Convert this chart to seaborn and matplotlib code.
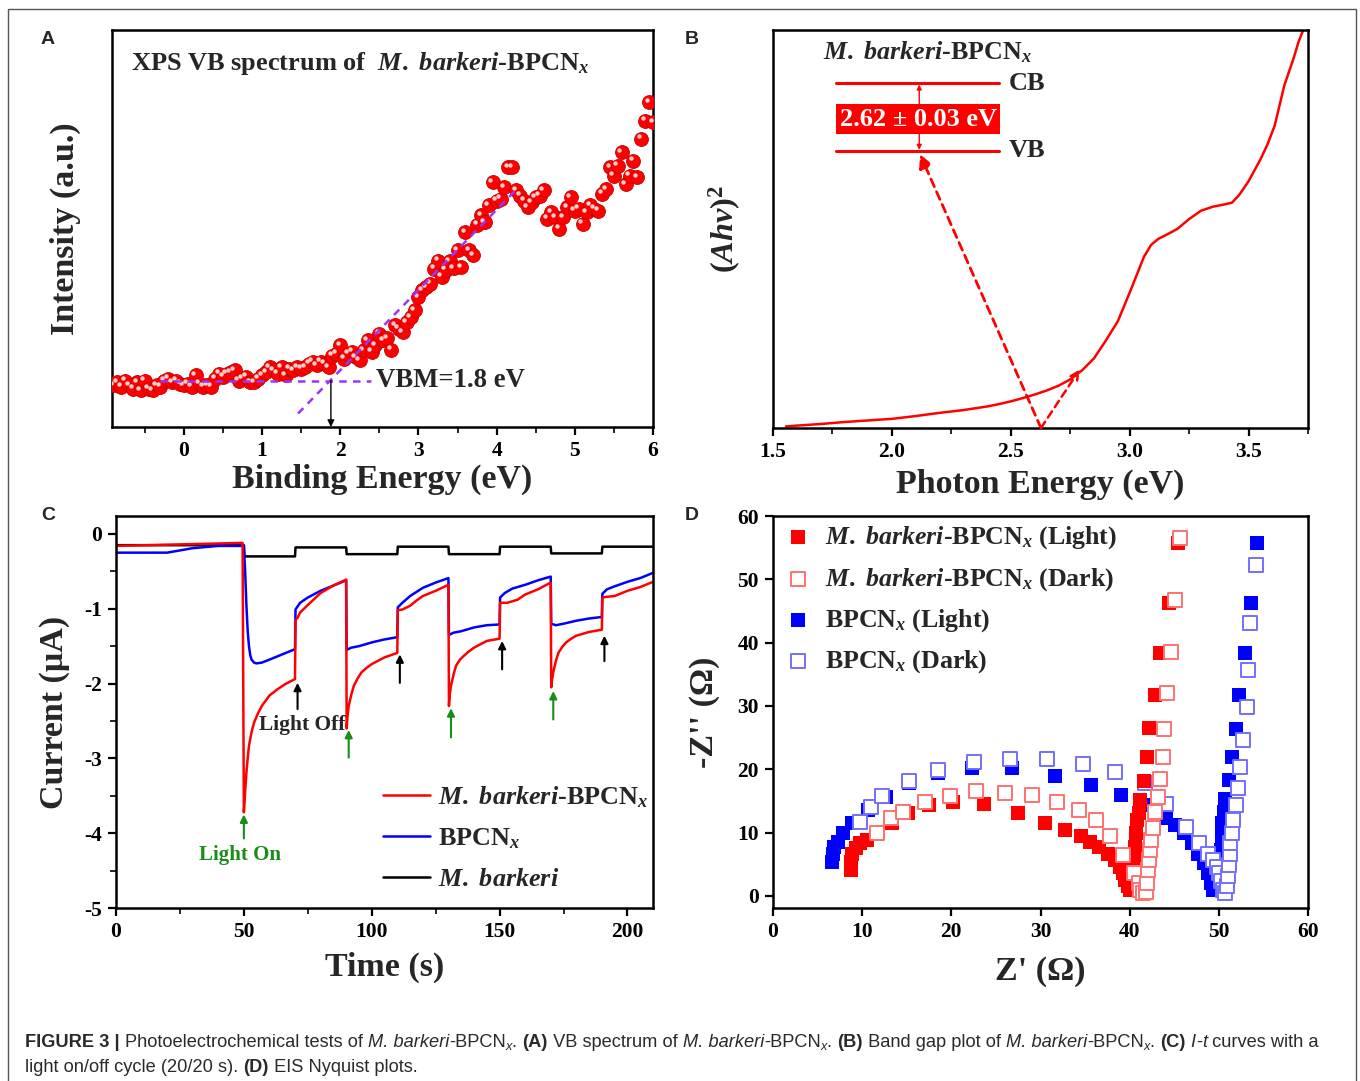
import numpy as np
import pandas as pd
import matplotlib
matplotlib.use('Agg')
import matplotlib.pyplot as plt
from matplotlib.ticker import MultipleLocator, NullLocator
from matplotlib.patches import Rectangle
from matplotlib.transforms import offset_copy
import seaborn as sns

# ---------------------------------------------------------------------------
# data
# A: XPS VB spectrum (binding energy eV, intensity a.u. 0-100)
xps_e = [-0.9, -0.85, -0.8, -0.75, -0.7, -0.65, -0.6, -0.55, -0.5, -0.45, -0.4, -0.35,
         -0.3, -0.25, -0.2, -0.15, -0.1, -0.05, 0.0, 0.05, 0.1, 0.15, 0.2, 0.25, 0.3,
         0.35, 0.4, 0.45, 0.5, 0.55, 0.6, 0.65, 0.7, 0.75, 0.8, 0.85, 0.9, 0.95, 1.0,
         1.05, 1.1, 1.15, 1.2, 1.25, 1.3, 1.35, 1.4, 1.45, 1.5, 1.55, 1.6, 1.65, 1.7,
         1.75, 1.8, 1.85, 1.9, 1.95, 2.0, 2.05, 2.1, 2.15, 2.2, 2.25, 2.3, 2.35, 2.4,
         2.45, 2.5, 2.55, 2.6, 2.65, 2.7, 2.75, 2.8, 2.85, 2.9, 2.95, 3.0, 3.05, 3.1,
         3.15, 3.2, 3.25, 3.3, 3.35, 3.4, 3.45, 3.5, 3.55, 3.6, 3.65, 3.7, 3.75, 3.8,
         3.85, 3.9, 3.95, 4.0, 4.05, 4.1, 4.15, 4.2, 4.25, 4.3, 4.35, 4.4, 4.45, 4.5,
         4.55, 4.6, 4.65, 4.7, 4.75, 4.8, 4.85, 4.9, 4.95, 5.0, 5.05, 5.1, 5.15, 5.2,
         5.25, 5.3, 5.35, 5.4, 5.45, 5.5, 5.55, 5.6, 5.65, 5.7, 5.75, 5.8, 5.85, 5.9,
         5.95, 6.0]
xps_i = [10.5, 11.3, 10.1, 11.7, 10.5, 9.6, 11.3, 9.2, 11.7, 9.6, 9.2, 10.5,
         10.1, 11.7, 12.2, 11.3, 11.7, 10.9, 10.5, 10.9, 10.1, 13.0, 10.9, 10.1, 10.5,
         10.1, 12.2, 13.4, 12.6, 13.4, 13.8, 14.3, 11.7, 12.2, 12.6, 11.3, 11.3, 12.2, 13.0,
         13.8, 15.1, 14.3, 13.4, 15.1, 13.0, 14.7, 14.3, 15.1, 14.7, 15.1, 15.9, 16.4, 15.5,
         16.4, 15.9, 15.1, 18.0, 18.5, 20.6, 17.2, 18.5, 18.9, 17.6, 16.8, 19.3, 21.8, 18.9,
         20.6, 23.5, 21.8, 22.3, 19.5, 25.6, 24.8, 23.9, 26.4, 27.7, 29.4, 32.7, 34.4, 35.2,
         36.1, 39.8, 41.9, 37.8, 39.6, 41.7, 40.0, 44.5, 40.3, 49.0, 44.5, 43.2, 51.0, 53.3,
         51.6, 55.8, 61.7, 57.0, 57.5, 60.4, 65.4, 65.4, 59.6, 58.3, 57.0, 55.4, 56.6, 57.9,
         58.3, 59.6, 52.4, 54.1, 52.8, 49.9, 52.8, 55.4, 57.9, 54.5, 55.0, 51.2, 54.1, 55.8,
         55.0, 54.5, 58.7, 59.9, 65.4, 63.3, 65.8, 69.2, 61.1, 63.3, 67.1, 62.9, 72.6, 77.2,
         81.8, 76.8]
vbm_base_x = [-0.3, 2.39]
vbm_base_y = [11.7, 11.7]
vbm_fit_x = [1.46, 4.28]
vbm_fit_y = [3.4, 60.4]
vbm = 1.88

# B: Tauc plot (photon energy eV, (Ahv)^2 a.u. 0-100)
tauc_e = [1.555, 1.6, 1.7, 1.8, 1.9, 2.0, 2.1, 2.2, 2.3, 2.4, 2.45, 2.5, 2.55, 2.6,
          2.65, 2.7, 2.75, 2.8, 2.85, 2.9, 2.95, 3.0, 3.03, 3.06, 3.09, 3.12, 3.15,
          3.2, 3.25, 3.3, 3.35, 3.4, 3.43, 3.46, 3.5, 3.55, 3.58, 3.61, 3.63, 3.65,
          3.67, 3.69, 3.71, 3.73]
tauc_a = [0.4, 0.6, 1.0, 1.5, 1.9, 2.3, 3.0, 3.8, 4.5, 5.4, 6.0, 6.7, 7.5, 8.4,
          9.4, 10.6, 12.2, 14.5, 17.5, 22.0, 26.8, 34.0, 38.5, 43.0, 46.0, 47.5, 48.4,
          50.0, 52.5, 54.6, 55.6, 56.2, 56.6, 58.5, 62.0, 67.5, 71.3, 76.0, 81.0, 86.0,
          89.5, 93.0, 97.0, 100.0]
tangent_x = [2.627, 2.79]
tangent_y = [0.0, 14.7]
band_gap = 2.62

# C: I-t curves (time s, current uA)
t_red = [0, 49, 49.5, 50, 50.5, 51, 51.5, 52, 53, 54, 55.5, 57, 60, 63, 66, 70,
         70.2, 71, 72, 75, 80, 85, 90,
         90.2, 90.5, 91, 92, 93, 94.5, 96, 98, 100, 105, 110,
         110.2, 112, 115, 117.5, 120, 125, 130,
         130.2, 130.5, 131, 132, 133, 134.5, 136, 138, 140, 145, 150,
         150.2, 153, 157, 160, 165, 170,
         170.2, 170.5, 171, 172, 173, 174.5, 176, 178, 180, 185, 190,
         190.2, 192, 195, 200, 205, 210]
i_red = [-0.16, -0.12, -0.12, -3.72, -3.45, -3.19, -3.00, -2.83, -2.65, -2.52, -2.40, -2.30,
         -2.16, -2.08, -2.01, -1.94,
         -1.15, -1.12, -1.05, -0.95, -0.79, -0.69, -0.61,
         -2.60, -2.45, -2.30, -2.15, -2.03, -1.93, -1.85, -1.79, -1.74, -1.65, -1.59,
         -1.02, -1.01, -0.96, -0.89, -0.83, -0.76, -0.68,
         -2.30, -2.15, -2.03, -1.88, -1.76, -1.68, -1.63, -1.57, -1.52, -1.43, -1.40,
         -0.92, -0.92, -0.88, -0.81, -0.74, -0.65,
         -2.05, -1.95, -1.85, -1.70, -1.59, -1.51, -1.45, -1.40, -1.36, -1.31, -1.28,
         -0.85, -0.84, -0.83, -0.76, -0.71, -0.64]
t_blue = [0, 20, 30, 40, 50, 50.5, 51, 51.5, 52, 52.5, 53, 54, 55, 57, 60, 65, 70,
          70.2, 72, 75, 80, 85, 90,
          90.2, 92, 95, 100, 105, 110,
          110.2, 112, 115, 120, 125, 130,
          130.2, 132, 135, 140, 145, 150,
          150.2, 152, 155, 160, 165, 170,
          170.2, 172, 175, 180, 185, 190,
          190.2, 192, 195, 200, 205, 210]
i_blue = [-0.25, -0.25, -0.19, -0.16, -0.16, -0.50, -0.95, -1.30, -1.50, -1.62, -1.68, -1.72,
          -1.73, -1.72, -1.68, -1.61, -1.54,
          -1.01, -0.92, -0.85, -0.76, -0.69, -0.62,
          -1.55, -1.52, -1.50, -1.45, -1.41, -1.38,
          -0.98, -0.92, -0.83, -0.72, -0.65, -0.59,
          -1.35, -1.32, -1.30, -1.25, -1.22, -1.21,
          -0.85, -0.79, -0.73, -0.68, -0.62, -0.57,
          -1.20, -1.22, -1.20, -1.16, -1.13, -1.11,
          -0.80, -0.74, -0.70, -0.64, -0.59, -0.52]
t_black = [0, 50, 50.2, 70, 70.2, 90, 90.2, 110, 110.2, 130, 130.2, 150, 150.2, 170, 170.2,
           190, 190.2, 210]
i_black = [-0.15, -0.15, -0.30, -0.30, -0.18, -0.18, -0.27, -0.27, -0.17, -0.17, -0.27,
           -0.27, -0.17, -0.17, -0.26, -0.26, -0.17, -0.17]
light_on_t = [50, 91, 131, 171]
light_on_tail = [-4.07, -2.99, -2.72, -2.48]
light_on_tip = [-3.75, -2.62, -2.33, -2.10]
light_off_t = [71, 111, 151, 191]
light_off_tail = [-2.34, -1.99, -1.81, -1.70]
light_off_tip = [-1.99, -1.61, -1.43, -1.36]

# D: Nyquist plots (Z' ohm, -Z'' ohm)
mb_light_re = [8.78, 8.78, 8.9, 9.27, 9.76, 10.5, 11.7, 13.3, 15.1, 17.5, 20.2, 23.7, 27.5,
               30.5, 32.8, 34.5, 35.6, 36.6, 37.6, 38.3, 38.9, 39.3, 39.5, 39.8, 40.0, 40.2,
               40.4, 40.5, 40.6, 40.7, 40.8, 41.1, 41.2, 41.6, 41.9, 42.2, 42.8, 43.4, 44.4,
               45.4]
mb_light_im = [4.1, 5.4, 6.7, 7.5, 8.3, 8.8, 9.9, 11.5, 13.1, 14.4, 14.9, 14.6, 13.1,
               11.6, 10.4, 9.4, 8.6, 7.8, 6.7, 5.7, 4.6, 3.6, 2.5, 1.5, 0.9, 1.2,
               3.6, 5.7, 7.8, 9.9, 12.0, 13.1, 15.2, 18.1, 22.0, 26.5, 31.8, 38.4, 46.2,
               55.7]
mb_dark_re = [11.7, 13.2, 14.6, 17.1, 19.8, 22.8, 26.0, 29.0, 31.9, 34.3, 36.2, 37.8, 39.3,
              40.5, 41.0, 41.2, 41.5, 41.8, 42.0, 42.1, 42.2, 42.3, 42.4, 42.6, 42.8, 43.2,
              43.4, 43.7, 43.9, 44.2, 44.6, 45.1, 45.6]
mb_dark_im = [9.9, 12.3, 13.3, 14.9, 15.8, 16.5, 16.3, 15.9, 14.9, 13.6, 12.0, 9.4, 6.5,
              3.6, 2.0, 0.9, 0.4, 0.7, 2.0, 4.1, 5.7, 7.3, 8.8, 10.7, 13.3, 15.7,
              18.4, 22.0, 26.3, 32.0, 38.6, 46.7, 56.5]
bp_light_re = [6.59, 6.7, 6.83, 7.3, 7.9, 8.9, 10.6, 12.7, 15.3, 18.5, 22.3, 26.8, 31.6,
               35.7, 39.0, 41.5, 42.9, 44.1, 45.1, 46.1, 47.0, 47.7, 48.3, 48.8, 49.1, 49.4,
               49.8, 49.9, 50.0, 50.2, 50.3, 50.4, 50.6, 50.7, 51.1, 51.5, 51.9, 52.3, 52.9,
               53.6, 54.3]
bp_light_im = [5.4, 6.7, 7.8, 8.6, 9.9, 11.5, 13.6, 15.7, 17.8, 19.4, 20.2, 20.2, 18.9,
               17.5, 15.9, 14.4, 13.3, 12.3, 11.2, 9.9, 8.3, 6.7, 5.2, 3.6, 2.0, 0.9,
               1.2, 3.1, 5.2, 7.3, 9.4, 11.5, 13.3, 15.3, 18.3, 22.0, 26.3, 31.7, 38.3,
               46.2, 55.7]
bp_dark_re = [9.76, 11.0, 12.2, 15.2, 18.5, 22.5, 26.6, 30.7, 34.8, 38.4, 41.7, 44.1, 46.3,
              47.8, 48.8, 49.4, 49.8, 50.0, 50.2, 50.5, 50.7, 50.9, 51.0, 51.1, 51.2, 51.3,
              51.5, 51.6, 51.9, 52.1, 52.4, 52.7, 53.2, 53.3, 53.5, 54.2]
bp_dark_im = [11.7, 14.1, 15.8, 18.1, 19.9, 21.2, 21.7, 21.7, 20.9, 19.6, 17.9, 14.6, 10.9,
              8.3, 6.7, 5.7, 4.6, 3.6, 2.3, 0.9, 0.5, 1.5, 3.1, 4.9, 6.7, 8.3,
              9.9, 12.0, 14.4, 17.0, 20.4, 24.6, 29.8, 35.7, 43.1, 52.3]

# ---------------------------------------------------------------------------
sns.set_theme(style='ticks')
plt.rcParams['font.family'] = ['Liberation Serif', 'DejaVu Serif']
plt.rcParams['font.weight'] = 'bold'
plt.rcParams['axes.labelweight'] = 'bold'
plt.rcParams['axes.unicode_minus'] = False
plt.rcParams['mathtext.fontset'] = 'custom'
plt.rcParams['mathtext.rm'] = 'Liberation Serif:bold'
plt.rcParams['mathtext.bf'] = 'Liberation Serif:bold'
plt.rcParams['mathtext.it'] = 'Liberation Serif:italic:bold'
plt.rcParams['mathtext.bfit'] = 'Liberation Serif:italic:bold'

W, H = 1360, 1081
fig = plt.figure(figsize=(W / 100, H / 100), dpi=100)

MB = r'$\mathit{M.\ barkeri}$'
BX = r'BPCN$_{\mathit{x}}$'
TICK = 15.5
LAB = 24.5


def px_axes(left, top, right, bottom):
    return fig.add_axes([left / W, 1 - bottom / H, (right - left) / W, (bottom - top) / H])


def style_axes(ax):
    for sp in ax.spines.values():
        sp.set_visible(True)
        sp.set_linewidth(1.8)
        sp.set_color('black')
    ax.tick_params(which='major', direction='out', length=6, width=1.6, labelsize=TICK,
                   colors='black', pad=4)
    ax.tick_params(which='minor', direction='out', length=4, width=1.4)
    ax.tick_params(top=False, right=False)
    ax.grid(False)
    ax.set_facecolor('white')


# ---------------------------------------------------------------- panel A
axA = px_axes(112, 30, 653, 427)
dfA = pd.DataFrame({'e': xps_e, 'i': xps_i})
sns.scatterplot(data=dfA, x='e', y='i', ax=axA, s=100, color='#ff0000',
                edgecolor='#c80000', linewidth=0.6, zorder=3)
sns.scatterplot(data=dfA, x='e', y='i', ax=axA, s=10, color='#ffd0d0', linewidth=0,
                zorder=4, transform=offset_copy(axA.transData, fig=fig, x=-2.5, y=2.5, units='dots'))
axA.plot(vbm_base_x, vbm_base_y, ls=(0, (3, 2.5)), color='#9933ff', lw=1.8, zorder=5)
axA.plot(vbm_fit_x, vbm_fit_y, ls=(0, (3, 2.5)), color='#9933ff', lw=1.8, zorder=5)
axA.annotate('', xy=(vbm, 0), xytext=(vbm, vbm_base_y[0]),
             arrowprops=dict(arrowstyle='-|>', color='black', lw=1.0, mutation_scale=10,
                             shrinkA=0, shrinkB=0), zorder=6)
axA.text(2.46, 11.6, 'VBM=1.8 eV', fontsize=19.3, va='center', ha='left')
axA.text(-0.68, 91.6, 'XPS VB spectrum of  ' + MB + '-' + BX, fontsize=19, va='center')
axA.set_xlim(-0.92, 6)
axA.set_ylim(0, 100)
axA.xaxis.set_major_locator(MultipleLocator(1))
axA.xaxis.set_minor_locator(MultipleLocator(0.5))
axA.yaxis.set_major_locator(NullLocator())
style_axes(axA)
axA.set_xlabel('Binding Energy (eV)', fontsize=LAB)
axA.set_ylabel('Intensity (a.u.)', fontsize=LAB)
axA.xaxis.set_label_coords(0.5, -0.093)
axA.yaxis.set_label_coords(-0.058, 0.5)

# ---------------------------------------------------------------- panel B
axB = px_axes(773, 30, 1308, 428)
dfB = pd.DataFrame({'e': tauc_e, 'a': tauc_a})
sns.lineplot(data=dfB, x='e', y='a', ax=axB, color='#ff0000', lw=1.8, estimator=None, sort=False)
axB.annotate('', xy=(tangent_x[1], tangent_y[1]), xytext=(tangent_x[0], tangent_y[0]),
             arrowprops=dict(arrowstyle='->', color='#ff0000', lw=1.8, ls=(0, (3, 2)),
                             shrinkA=0, shrinkB=0, mutation_scale=14))
axB.annotate('', xy=(2.118, 68.8), xytext=(band_gap + 0.007, 0),
             arrowprops=dict(arrowstyle='-|>', color='#ff0000', lw=2.0, ls=(0, (3, 2)),
                             shrinkA=0, shrinkB=0, mutation_scale=20))
axB.plot([1.764, 2.451], [86.6, 86.6], color='#ff0000', lw=2.2)
axB.plot([1.764, 2.451], [69.6, 69.6], color='#ff0000', lw=2.2)
axB.annotate('', xy=(2.115, 86.3), xytext=(2.115, 69.9),
             arrowprops=dict(arrowstyle='<|-|>', color='#ff0000', lw=1.0, shrinkA=0, shrinkB=0,
                             mutation_scale=7))
axB.add_patch(Rectangle((1.767, 73.9), 0.688, 7.6, facecolor='#ff0000', edgecolor='none', zorder=4))
axB.text(2.111, 77.6, '2.62 \u00b1 0.03 eV', color='white', fontsize=19, ha='center',
         va='center', zorder=5)
axB.text(2.49, 86.6, 'CB', fontsize=19, va='center')
axB.text(2.49, 69.6, 'VB', fontsize=19, va='center')
axB.text(1.709, 94.4, MB + '-' + BX, fontsize=18.7, va='center')
axB.set_xlim(1.5, 3.75)
axB.set_ylim(0, 100)
axB.xaxis.set_major_locator(MultipleLocator(0.5))
axB.xaxis.set_minor_locator(MultipleLocator(0.25))
axB.yaxis.set_major_locator(NullLocator())
style_axes(axB)
axB.set_xlabel('Photon Energy (eV)', fontsize=LAB)
axB.set_ylabel(r'($\mathit{Ahv}$)$^{2}$', fontsize=23.3)
axB.xaxis.set_label_coords(0.5, -0.103)
axB.yaxis.set_label_coords(-0.056, 0.5)

# ---------------------------------------------------------------- panel C
axC = px_axes(116, 516, 653, 908)
sns.lineplot(x=t_black, y=i_black, ax=axC, color='black', lw=1.8, estimator=None, sort=False,
             label=MB)
sns.lineplot(x=t_blue, y=i_blue, ax=axC, color='#0000ff', lw=1.8, estimator=None, sort=False,
             label=BX)
sns.lineplot(x=t_red, y=i_red, ax=axC, color='#ff0000', lw=1.8, estimator=None, sort=False,
             label=MB + '-' + BX)
for t, a, b in zip(light_on_t, light_on_tail, light_on_tip):
    axC.annotate('', xy=(t, b), xytext=(t, a),
                 arrowprops=dict(arrowstyle='-|>', color='#1a8c1a', lw=1.5, shrinkA=0, shrinkB=0,
                                 mutation_scale=11))
for t, a, b in zip(light_off_t, light_off_tail, light_off_tip):
    axC.annotate('', xy=(t, b), xytext=(t, a),
                 arrowprops=dict(arrowstyle='-|>', color='black', lw=1.5, shrinkA=0, shrinkB=0,
                                 mutation_scale=11))
axC.text(72.9, -2.56, 'Light Off', fontsize=15.5, ha='center', va='center')
axC.text(48.5, -4.29, 'Light On', fontsize=15, ha='center', va='center', color='#1a8c1a')
axC.set_xlim(0, 210)
axC.set_ylim(-5, 0.24)
axC.xaxis.set_major_locator(MultipleLocator(50))
axC.xaxis.set_minor_locator(MultipleLocator(25))
axC.yaxis.set_major_locator(MultipleLocator(1))
axC.yaxis.set_minor_locator(MultipleLocator(0.5))
style_axes(axC)
h, l = axC.get_legend_handles_labels()
axC.legend(h[::-1], l[::-1], loc='upper left', bbox_to_anchor=(0.497, 0.316), frameon=False,
           fontsize=18.8, handlelength=1.8, handletextpad=0.3, labelspacing=0.64,
           borderaxespad=0, borderpad=0)
axC.set_xlabel('Time (s)', fontsize=LAB)
axC.set_ylabel('Current (\u03bcA)', fontsize=LAB)
axC.xaxis.set_label_coords(0.5, -0.112)
axC.yaxis.set_label_coords(-0.085, 0.5)

# ---------------------------------------------------------------- panel D
axD = px_axes(773, 516, 1308, 908)
sq = dict(marker='s', s=110, ax=axD)
sns.scatterplot(x=bp_light_re, y=bp_light_im, color='#0000ff', linewidth=0,
                label=BX + ' (Light)', **sq)
sns.scatterplot(x=bp_dark_re, y=bp_dark_im, color='#7070ff', facecolors='white',
                edgecolor='#7070ff', linewidth=1.4, label=BX + ' (Dark)', **sq)
sns.scatterplot(x=mb_light_re, y=mb_light_im, color='#ff0000', linewidth=0,
                label=MB + '-' + BX + ' (Light)', **sq)
sns.scatterplot(x=mb_dark_re, y=mb_dark_im, color='#ff7070', facecolors='white',
                edgecolor='#ff7070', linewidth=1.4, label=MB + '-' + BX + ' (Dark)', **sq)
axD.set_xlim(0, 60)
axD.set_ylim(-1.9, 60)
axD.xaxis.set_major_locator(MultipleLocator(10))
axD.yaxis.set_major_locator(MultipleLocator(10))
style_axes(axD)
h, l = axD.get_legend_handles_labels()
order = [2, 3, 0, 1]
axD.legend([h[k] for k in order], [l[k] for k in order], loc='upper left',
           bbox_to_anchor=(0.022, 0.978), frameon=False, fontsize=18.6, handlelength=1.0,
           handletextpad=0.55, labelspacing=0.56, borderaxespad=0, borderpad=0, markerscale=1.0)
axD.set_xlabel("Z' (\u03a9)", fontsize=LAB)
axD.set_ylabel("-Z'' (\u03a9)", fontsize=LAB)
axD.xaxis.set_label_coords(0.5, -0.122)
axD.yaxis.set_label_coords(-0.1, 0.5)

# ---------------------------------------------------------------- panel letters, frame
for letter, x, y in [('A', 48, 40), ('B', 692, 40), ('C', 48, 515), ('D', 692, 515)]:
    fig.text(x / W, 1 - y / H, letter, fontsize=14, fontweight='bold',
             family='Liberation Sans', ha='center', va='center')
fig.patches.append(Rectangle((8 / W, -0.02), (1356 - 8) / W, 1.02 - 9 / H,
                             transform=fig.transFigure, fill=False, edgecolor='#555555',
                             lw=1.0))

# ---------------------------------------------------------------- caption
renderer = fig.canvas.get_renderer()


def caption_line(x0, y_base, runs, size=13.15):
    x = x0 / W
    for s, st in runs:
        y = 1 - y_base / H
        fs = size
        if 's' in st:
            y -= 3 / H
            fs = size * 0.7
        t = fig.text(x, y, s, fontsize=fs, family='Liberation Sans', va='baseline',
                     fontweight='bold' if 'b' in st else 'normal',
                     fontstyle='italic' if 'i' in st else 'normal', color='#2a2a2a')
        x += t.get_window_extent(renderer).width / W


# style codes: b = bold, i = italic, s = subscript
caption_line(25, 1047, [('FIGURE 3 | ', 'b'), ('Photoelectrochemical tests of ', ''),
                        ('M. barkeri', 'i'), ('-BPCN', ''), ('x', 'is'), ('. ', ''),
                        ('(A)', 'b'), (' VB spectrum of ', ''), ('M. barkeri', 'i'),
                        ('-BPCN', ''), ('x', 'is'), ('. ', ''), ('(B)', 'b'),
                        (' Band gap plot of ', ''), ('M. barkeri', 'i'), ('-BPCN', ''),
                        ('x', 'is'), ('. ', ''), ('(C)', 'b'), (' ', ''), ('I', 'i'),
                        ('-', ''), ('t', 'i'), (' curves with a', '')])
caption_line(25, 1072, [('light on/off cycle (20/20 s). ', ''), ('(D)', 'b'),
                        (' EIS Nyquist plots.', '')])

fig.savefig('out.png', dpi=100)
